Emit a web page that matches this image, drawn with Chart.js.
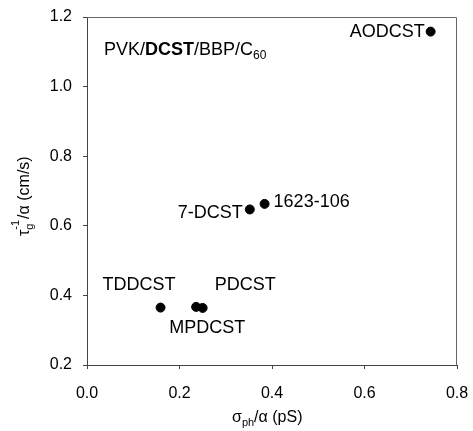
<!DOCTYPE html>
<html>
<head>
<meta charset="utf-8">
<script src="https://cdn.jsdelivr.net/npm/chart.js@4/dist/chart.umd.min.js"></script>
<style>
  html, body { margin: 0; padding: 0; background: #fff; }
  #wrap { width: 473px; height: 431px; }
</style>
</head>
<body>
<div id="wrap"><canvas id="scatter"></canvas></div>
<script>
// data
const names = ["AODCST", "1623-106", "7-DCST", "TDDCST", "MPDCST", "PDCST"];
const sigmaPh = [0.743, 0.384, 0.352, 0.159, 0.236, 0.250];
const tauInv = [1.158, 0.663, 0.647, 0.365, 0.367, 0.364];
const xTicks = [0.0, 0.2, 0.4, 0.6, 0.8];
const yTicks = [0.2, 0.4, 0.6, 0.8, 1.0, 1.2];

// where each name sits relative to its dot
const labelPlace = {
  "AODCST":   { dx: -6, dy: 0, align: "right" },
  "1623-106": { dx: 9, dy: -2, align: "left" },
  "7-DCST":   { dx: -7, dy: 4, align: "right" },
  "TDDCST":   { dx: -58, dy: -23, align: "left" },
  "MPDCST":   { dx: -27, dy: 21, align: "left" },
  "PDCST":    { dx: 12, dy: -23, align: "left" }
};

const FONT = "'Liberation Sans', Arial, sans-serif";

const points = sigmaPh.map((x, i) => ({ x: x, y: tauInv[i] }));

const decorations = {
  id: "decorations",
  afterDatasetsDraw(chart) {
    const ctx = chart.ctx;
    const a = chart.chartArea;
    const xs = chart.scales.x, ys = chart.scales.y;
    ctx.save();

    // frame on top and right
    ctx.strokeStyle = "#666";
    ctx.lineWidth = 1;
    ctx.beginPath();
    ctx.moveTo(a.left, a.top + 0.5);
    ctx.lineTo(a.right - 0.5, a.top + 0.5);
    ctx.lineTo(a.right - 0.5, a.bottom);
    ctx.stroke();

    // point names
    ctx.fillStyle = "#000";
    ctx.font = "18px " + FONT;
    ctx.textBaseline = "middle";
    names.forEach((n, i) => {
      const p = labelPlace[n];
      ctx.textAlign = p.align;
      ctx.fillText(n, xs.getPixelForValue(sigmaPh[i]) + p.dx, ys.getPixelForValue(tauInv[i]) + p.dy);
    });

    // sample label
    ctx.textAlign = "left";
    ctx.textBaseline = "alphabetic";
    let x = a.left + 17, y = a.top + 38;
    const parts = [["PVK/", "18px "], ["DCST", "bold 18px "], ["/BBP/C", "18px "]];
    parts.forEach(([t, f]) => {
      ctx.font = f + FONT;
      ctx.fillText(t, x, y);
      x += ctx.measureText(t).width;
    });
    ctx.font = "12px " + FONT;
    ctx.fillText("60", x, y + 4);

    // x title: sigma_ph / alpha (pS)
    ctx.font = "16px " + FONT;
    let tx = 232, ty = 422;
    ctx.fillText("\u03c3", tx, ty);
    tx += ctx.measureText("\u03c3").width;
    ctx.font = "11px " + FONT;
    ctx.fillText("ph", tx, ty + 4);
    tx += ctx.measureText("ph").width;
    ctx.font = "16px " + FONT;
    ctx.fillText("/\u03b1 (pS)", tx, ty);

    // y title: tau_g^-1 / alpha (cm/s), rotated
    ctx.translate(29, 236);
    ctx.rotate(-Math.PI / 2);
    ctx.font = "16px " + FONT;
    let ux = 0;
    ctx.fillText("\u03c4", ux, 0);
    ux += ctx.measureText("\u03c4").width;
    ctx.font = "11px " + FONT;
    ctx.fillText("g", ux, 4);
    ctx.fillText("-1", ux, -10);
    ux += ctx.measureText("-1").width + 1;
    ctx.font = "16px " + FONT;
    ctx.fillText("/\u03b1 (cm/s)", ux, 0);

    ctx.restore();
  }
};

new Chart(document.getElementById("scatter"), {
  type: "scatter",
  data: {
    datasets: [{
      label: "samples",
      data: points,
      backgroundColor: "#000",
      borderColor: "#000",
      pointRadius: 4.5,
      pointHoverRadius: 4.5
    }]
  },
  options: {
    responsive: true,
    maintainAspectRatio: false,
    animation: false,
    events: [],
    layout: { padding: { top: 17, right: 16, left: 0, bottom: 0 } },
    plugins: {
      legend: { display: false },
      tooltip: { enabled: false }
    },
    scales: {
      x: {
        type: "linear",
        min: 0, max: 0.8,
        afterBuildTicks: s => { s.ticks = xTicks.map(v => ({ value: v })); },
        afterFit: s => { s.height = 66; s.paddingLeft = 0; s.paddingRight = 0; },
        border: { display: true, color: "#444", width: 1 },
        grid: { drawOnChartArea: false, tickLength: 4, color: "#444" },
        ticks: {
          color: "#000",
          padding: 15,
          font: { size: 16, family: FONT },
          callback: v => v.toFixed(1)
        }
      },
      y: {
        type: "linear",
        min: 0.2, max: 1.2,
        afterBuildTicks: s => { s.ticks = yTicks.map(v => ({ value: v })); },
        afterFit: s => { s.width = 87; s.paddingTop = 0; s.paddingBottom = 0; },
        border: { display: true, color: "#444", width: 1 },
        grid: { drawOnChartArea: false, tickLength: 4, color: "#444" },
        ticks: {
          color: "#000",
          padding: 11,
          font: { size: 16, family: FONT },
          callback: v => v.toFixed(1)
        }
      }
    }
  },
  plugins: [decorations]
});
</script>
</body>
</html>
